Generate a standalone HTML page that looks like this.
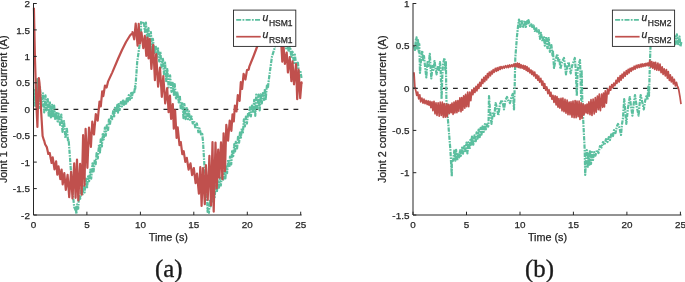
<!DOCTYPE html>
<html lang="en"><head><meta charset="utf-8"><title>Control input current</title>
<style>html,body{margin:0;padding:0;background:#fff}svg{display:block}</style></head>
<body>
<svg width="685" height="282" viewBox="0 0 685 282">
<rect width="685" height="282" fill="#fff"/>
<line x1="33.5" x2="301.7" y1="109.3" y2="109.3" stroke="#262626" stroke-width="1.3" stroke-dasharray="4.8 5.2"/>
<polyline points="34.0,100.0 34.6,90.0 35.2,106.0 35.9,84.0 36.6,104.0 37.2,79.0 37.9,106.0 38.6,84.0 39.3,108.0 40.0,87.0 40.0,88.4 41.5,106.4 43.0,93.3 44.2,112.4 45.5,95.3 46.4,110.3 47.8,99.0 48.8,116.9 49.8,101.3 50.9,117.4 52.1,104.9 53.1,117.7 54.2,105.7 55.1,118.9 56.6,111.8 57.6,121.4 58.6,113.6 60.0,124.9 61.3,114.5 62.5,131.9 64.0,121.2 65.4,138.1 66.9,128.8 68.1,141.7 68.5,140.0 68.8,142.0 70.0,158.0 72.0,186.0 74.2,207.0 75.5,210.0 75.5,207.3 76.4,213.9 77.1,204.3 78.2,208.6 79.1,194.9 80.2,198.8 81.3,188.4 82.4,195.6 83.7,185.3 84.6,192.5 85.8,178.5 87.0,188.1 88.1,176.3 89.1,181.2 90.4,169.5 91.2,178.6 92.5,163.4 93.6,171.5 94.8,159.4 95.7,164.1 96.6,153.1 97.8,158.4 99.0,144.6 100.0,152.4 100.7,139.3 101.9,146.5 102.8,133.0 103.7,139.5 104.9,127.6 105.8,135.6 106.8,125.3 108.1,130.0 108.9,119.6 109.9,124.7 111.1,116.1 112.2,119.2 113.3,109.8 114.1,117.6 115.1,106.8 116.2,112.4 117.3,104.8 118.0,112.6 118.7,104.0 119.6,110.1 120.8,102.2 121.9,106.5 123.0,99.5 124.0,104.9 124.9,99.9 125.9,105.0 126.8,98.6 127.7,102.6 128.8,95.2 129.9,99.7 131.1,93.1 131.8,98.0 132.9,91.4 134.1,93.7 135.1,86.2 135.2,88.8 135.5,86.0 136.2,76.7 137.2,62.0 138.6,52.0 140.0,42.0 141.0,30.0 141.0,22.2 142.4,24.0 143.8,21.7 145.0,32.0 145.9,22.7 147.1,38.0 148.5,28.1 149.4,41.9 150.9,32.1 152.0,51.8 152.9,38.9 154.4,53.0 155.7,45.4 156.6,58.1 158.0,48.3 159.2,61.5 160.4,51.5 161.5,67.3 163.0,58.8 164.0,74.1 165.1,62.7 166.2,81.1 167.3,69.0 168.6,87.3 170.1,75.3 171.5,91.9 172.7,82.9 173.9,94.8 174.7,84.2 176.1,99.4 177.4,92.5 178.7,102.3 179.8,95.5 180.8,109.6 182.3,102.1 183.5,118.2 184.4,104.1 185.6,119.1 186.8,108.1 187.9,119.1 189.0,111.4 190.1,120.8 191.5,116.5 192.7,123.4 194.1,120.9 195.4,128.6 196.9,123.5 198.4,132.2 199.6,128.5 201.0,134.4 202.3,134.0 202.5,137.0 203.0,141.0 203.2,145.0 205.0,175.0 207.2,201.0 207.6,212.0 207.6,208.2 208.9,212.8 209.9,199.7 210.6,206.3 211.5,195.2 212.5,201.4 213.6,191.4 214.7,197.2 215.6,185.5 216.9,191.9 217.8,181.1 219.0,187.6 219.9,177.8 220.8,185.5 222.0,175.3 223.3,179.7 224.2,171.1 225.4,178.4 226.3,166.6 227.1,173.2 228.2,159.5 229.3,167.4 230.0,156.5 231.2,164.4 232.2,150.1 233.2,156.1 234.3,144.1 235.1,151.3 235.8,141.8 237.1,148.4 238.0,136.9 239.1,142.7 240.1,131.0 240.8,139.0 241.8,128.4 242.8,133.8 243.9,119.3 244.9,126.5 245.9,116.7 246.9,123.5 248.1,113.1 248.9,116.6 249.9,107.3 250.9,116.3 252.0,104.6 253.1,112.7 254.2,99.8 255.3,115.8 256.2,94.7 257.3,108.3 258.5,94.5 259.7,110.3 260.6,94.3 261.8,103.5 262.9,93.2 264.0,99.8 265.0,88.7 265.7,99.1 266.9,85.6 267.9,88.5 268.3,84.0 270.0,70.8 272.0,56.5 275.0,47.0 277.0,38.0 278.5,32.0 278.5,29.0 279.7,34.6 280.6,28.0 281.6,37.5 282.7,29.9 283.7,41.0 285.2,38.6 286.1,48.5 287.3,42.9 288.7,52.0 290.0,45.9 291.3,56.8 292.5,51.7 293.9,63.0 294.9,54.7 296.4,68.1 297.9,62.7 298.9,72.4 300.3,70.5 301.5,78.0" fill="none" stroke="#5bbf9f" stroke-width="2.2" stroke-linejoin="round" stroke-dasharray="4.4 1.1 1.6 1.1"/>
<polyline points="33.9,7.8 35.0,60.0 36.4,104.0 37.4,127.0 38.1,100.0 38.8,78.0 39.5,83.0 40.2,92.0 41.3,114.0 42.6,136.0 44.0,140.5 44.0,140.0 45.1,144.3 46.8,147.1 48.3,154.0 49.7,153.0 51.6,163.0 52.7,157.4 54.5,169.3 56.1,161.4 57.3,174.6 58.5,166.3 60.3,179.2 61.6,169.5 62.7,184.3 64.3,173.2 65.8,189.8 67.6,174.9 69.2,197.2 71.1,171.8 72.5,198.4 74.2,163.3 75.6,197.8 77.0,159.5 78.3,200.4 80.1,163.9 81.7,194.6 83.1,135.2 84.5,185.6 85.6,128.9 87.4,167.8 89.0,127.7 90.9,147.0 92.3,121.6 94.0,134.5 95.8,114.1 97.7,120.7 99.5,101.6 100.8,106.5 102.2,91.3 103.3,96.1 105.0,85.5 106.6,87.5 108.0,81.8 108.0,81.6 112.2,72.6 118.4,58.0 122.0,50.0 126.0,42.0 130.0,35.5 132.5,33.0 132.5,32.1 134.2,39.3 135.7,23.5 137.6,45.6 138.7,23.8 139.9,43.6 141.5,32.4 143.3,48.2 144.8,35.8 146.3,55.8 147.5,37.6 148.6,58.5 149.7,39.2 151.4,68.9 153.2,44.9 154.9,80.2 156.2,54.0 158.1,86.7 160.0,67.6 161.8,96.8 163.3,76.0 165.2,103.3 167.2,88.0 168.6,112.1 170.0,95.7 171.1,118.9 172.8,104.1 173.8,128.6 175.1,110.3 176.6,138.0 177.7,127.4 179.5,145.1 180.8,142.1 182.3,154.2 183.7,151.2 185.3,161.9 186.8,157.8 188.6,169.6 190.5,163.4 192.1,175.1 193.8,168.0 195.6,183.1 197.0,173.6 198.9,193.7 200.3,167.2 201.6,206.0 203.0,168.0 204.8,204.2 205.9,165.2 207.7,199.9 209.4,155.8 211.0,205.4 212.5,142.1 213.7,211.6 215.5,142.6 216.8,188.3 218.2,149.5 219.4,177.7 221.0,142.3 222.4,179.2 223.6,133.3 225.0,171.1 226.3,124.9 228.1,140.7 229.7,120.5 231.4,130.8 232.5,114.3 233.8,121.3 234.9,105.5 236.5,111.4 237.8,95.1 239.6,100.9 240.8,82.2 242.1,88.8 243.6,73.8 245.4,79.5 247.0,70.1 248.7,69.6 249.3,66.8 249.3,66.7 253.4,56.5 257.0,47.0 260.0,40.0 265.0,32.0 268.0,29.5 268.0,28.3 269.3,32.4 271.2,26.3 272.6,36.2 274.4,25.5 276.1,39.5 277.4,26.0 279.2,44.3 280.9,37.0 282.3,61.7 283.6,47.3 284.9,63.9 286.7,52.5 287.9,72.5 289.7,57.2 291.4,81.1 292.5,61.3 294.0,84.3 296.0,64.0 297.2,99.1 298.6,69.7 300.2,98.2 301.5,82.3 301.8,84.0" fill="none" stroke="#c0504d" stroke-width="2.2" stroke-linejoin="round"/>
<path d="M33.5 3.0V215.0H301.7" fill="none" stroke="#262626" stroke-width="1"/>
<line x1="33.5" x2="33.5" y1="215.0" y2="211.7" stroke="#262626" stroke-width="1"/>
<text x="33.5" y="228.3" text-anchor="middle" font-size="9.9" fill="#262626" stroke="#262626" stroke-width="0.25" font-family="Liberation Sans, Arial, Helvetica, sans-serif">0</text>
<line x1="86.9" x2="86.9" y1="215.0" y2="211.7" stroke="#262626" stroke-width="1"/>
<text x="86.9" y="228.3" text-anchor="middle" font-size="9.9" fill="#262626" stroke="#262626" stroke-width="0.25" font-family="Liberation Sans, Arial, Helvetica, sans-serif">5</text>
<line x1="140.4" x2="140.4" y1="215.0" y2="211.7" stroke="#262626" stroke-width="1"/>
<text x="140.4" y="228.3" text-anchor="middle" font-size="9.9" fill="#262626" stroke="#262626" stroke-width="0.25" font-family="Liberation Sans, Arial, Helvetica, sans-serif">10</text>
<line x1="193.8" x2="193.8" y1="215.0" y2="211.7" stroke="#262626" stroke-width="1"/>
<text x="193.8" y="228.3" text-anchor="middle" font-size="9.9" fill="#262626" stroke="#262626" stroke-width="0.25" font-family="Liberation Sans, Arial, Helvetica, sans-serif">15</text>
<line x1="247.3" x2="247.3" y1="215.0" y2="211.7" stroke="#262626" stroke-width="1"/>
<text x="247.3" y="228.3" text-anchor="middle" font-size="9.9" fill="#262626" stroke="#262626" stroke-width="0.25" font-family="Liberation Sans, Arial, Helvetica, sans-serif">20</text>
<line x1="300.7" x2="300.7" y1="215.0" y2="211.7" stroke="#262626" stroke-width="1"/>
<text x="300.7" y="228.3" text-anchor="middle" font-size="9.9" fill="#262626" stroke="#262626" stroke-width="0.25" font-family="Liberation Sans, Arial, Helvetica, sans-serif">25</text>
<line x1="33.5" x2="36.8" y1="3.5" y2="3.5" stroke="#262626" stroke-width="1"/>
<text x="29.9" y="7.1" text-anchor="end" font-size="9.9" fill="#262626" stroke="#262626" stroke-width="0.25" font-family="Liberation Sans, Arial, Helvetica, sans-serif">2</text>
<line x1="33.5" x2="36.8" y1="29.9" y2="29.9" stroke="#262626" stroke-width="1"/>
<text x="29.9" y="33.5" text-anchor="end" font-size="9.9" fill="#262626" stroke="#262626" stroke-width="0.25" font-family="Liberation Sans, Arial, Helvetica, sans-serif">1.5</text>
<line x1="33.5" x2="36.8" y1="56.4" y2="56.4" stroke="#262626" stroke-width="1"/>
<text x="29.9" y="60.0" text-anchor="end" font-size="9.9" fill="#262626" stroke="#262626" stroke-width="0.25" font-family="Liberation Sans, Arial, Helvetica, sans-serif">1</text>
<line x1="33.5" x2="36.8" y1="82.8" y2="82.8" stroke="#262626" stroke-width="1"/>
<text x="29.9" y="86.4" text-anchor="end" font-size="9.9" fill="#262626" stroke="#262626" stroke-width="0.25" font-family="Liberation Sans, Arial, Helvetica, sans-serif">0.5</text>
<line x1="33.5" x2="36.8" y1="109.2" y2="109.2" stroke="#262626" stroke-width="1"/>
<text x="29.9" y="112.8" text-anchor="end" font-size="9.9" fill="#262626" stroke="#262626" stroke-width="0.25" font-family="Liberation Sans, Arial, Helvetica, sans-serif">0</text>
<line x1="33.5" x2="36.8" y1="135.7" y2="135.7" stroke="#262626" stroke-width="1"/>
<text x="29.9" y="139.3" text-anchor="end" font-size="9.9" fill="#262626" stroke="#262626" stroke-width="0.25" font-family="Liberation Sans, Arial, Helvetica, sans-serif">-0.5</text>
<line x1="33.5" x2="36.8" y1="162.1" y2="162.1" stroke="#262626" stroke-width="1"/>
<text x="29.9" y="165.7" text-anchor="end" font-size="9.9" fill="#262626" stroke="#262626" stroke-width="0.25" font-family="Liberation Sans, Arial, Helvetica, sans-serif">-1</text>
<line x1="33.5" x2="36.8" y1="188.6" y2="188.6" stroke="#262626" stroke-width="1"/>
<text x="29.9" y="192.2" text-anchor="end" font-size="9.9" fill="#262626" stroke="#262626" stroke-width="0.25" font-family="Liberation Sans, Arial, Helvetica, sans-serif">-1.5</text>
<line x1="33.5" x2="36.8" y1="215.0" y2="215.0" stroke="#262626" stroke-width="1"/>
<text x="29.9" y="218.6" text-anchor="end" font-size="9.9" fill="#262626" stroke="#262626" stroke-width="0.25" font-family="Liberation Sans, Arial, Helvetica, sans-serif">-2</text>
<text x="168.3" y="241.2" text-anchor="middle" font-size="10.8" fill="#262626" stroke="#262626" stroke-width="0.25" font-family="Liberation Sans, Arial, Helvetica, sans-serif">Time (s)</text>
<text transform="translate(7.2,109.25) rotate(-90)" text-anchor="middle" font-size="10.8" fill="#262626" stroke="#262626" stroke-width="0.25" font-family="Liberation Sans, Arial, Helvetica, sans-serif">Joint 1 control input current (A)</text>
<text x="168.8" y="277.3" text-anchor="middle" font-size="24.8" fill="#1a1a1a" stroke="#1a1a1a" stroke-width="0.35" font-family="Liberation Serif, Times New Roman, serif">(a)</text>
<rect x="233.5" y="10.1" width="62.30000000000001" height="36.3" fill="#fff" stroke="#262626" stroke-width="0.9"/>
<line x1="236.2" x2="260.7" y1="19.9" y2="19.9" stroke="#5bbf9f" stroke-width="1.7" stroke-dasharray="5 1.3 1.8 1.3"/>
<line x1="236.2" x2="260.7" y1="36.7" y2="36.7" stroke="#c0504d" stroke-width="1.7"/>
<text x="262.5" y="21.0" font-size="10.4" fill="#262626" stroke="#262626" stroke-width="0.25" font-family="Liberation Sans, Arial, Helvetica, sans-serif"><tspan font-style="italic">u</tspan><tspan dx="0.6" dy="5.3" font-size="8.5">HSM1</tspan></text>
<text x="262.5" y="37.8" font-size="10.4" fill="#262626" stroke="#262626" stroke-width="0.25" font-family="Liberation Sans, Arial, Helvetica, sans-serif"><tspan font-style="italic">u</tspan><tspan dx="0.6" dy="5.3" font-size="8.5">RSM1</tspan></text>
<line x1="413.0" x2="681.4" y1="88.3" y2="88.3" stroke="#262626" stroke-width="1.3" stroke-dasharray="4.8 5.2"/>
<polyline points="414.2,46.0 415.0,50.0 415.8,40.0 416.5,37.3 417.2,50.0 418.0,40.0 418.8,52.0 419.3,44.0 420.0,73.0 421.0,60.0 422.2,50.7 423.0,60.0 424.0,56.0 425.0,66.0 426.3,77.4 427.5,62.0 428.5,66.0 429.8,53.8 430.5,66.0 431.3,78.5 432.5,66.0 433.3,70.0 434.5,61.0 435.5,68.0 436.6,74.4 438.0,66.0 439.0,70.0 440.0,62.0 440.7,72.0 441.2,86.0 441.6,99.0 442.2,78.0 443.0,64.0 444.5,58.0 445.3,70.0 445.9,62.0 446.4,100.0 447.6,115.6 450.4,150.0 451.8,176.3 451.8,159.8 453.1,160.6 454.5,149.1 455.3,160.6 456.1,149.9 457.2,160.6 458.1,152.8 459.2,157.4 460.0,150.3 460.8,155.9 462.1,147.7 463.0,153.7 464.3,146.1 465.2,151.2 466.5,142.6 467.4,153.5 468.4,142.3 469.6,149.1 470.4,139.9 471.2,144.7 472.0,136.7 473.3,144.7 474.5,135.4 475.8,141.2 476.6,132.4 477.6,138.7 478.6,129.6 479.7,137.1 480.6,127.8 481.5,134.6 482.5,126.4 483.7,132.0 484.9,124.2 485.9,129.4 486.9,124.3 488.2,126.6 488.5,125.0 489.0,96.0 490.0,110.0 491.5,123.8 493.0,112.0 494.3,116.0 495.6,103.0 497.0,108.0 498.3,115.6 500.0,104.0 501.8,100.0 503.0,104.0 504.0,109.4 505.5,100.0 507.0,97.0 508.5,101.0 510.0,103.0 511.5,97.0 512.7,94.0 513.4,100.0 514.0,109.4 514.6,90.0 515.3,58.0 517.0,36.0 518.3,24.0 519.0,19.5 520.2,27.0 521.5,20.0 523.0,28.0 524.5,20.5 525.8,27.0 527.2,21.0 528.5,23.0 528.5,20.1 530.0,25.9 531.4,24.3 532.7,28.5 533.6,25.5 534.8,30.9 536.3,28.3 537.2,32.9 538.8,30.2 540.0,38.9 540.9,32.8 542.5,41.5 543.8,35.9 544.8,45.7 546.2,36.8 547.4,48.1 548.7,38.1 549.9,52.0 551.4,45.0 552.5,55.3 553.0,51.5 553.0,52.0 554.0,68.0 555.5,60.0 557.3,54.0 558.5,62.0 559.5,60.0 560.4,69.0 562.0,62.0 564.0,58.0 565.0,66.0 566.0,74.4 567.3,66.0 568.7,62.0 569.7,68.0 570.7,73.4 572.0,66.0 573.5,62.0 574.8,58.0 575.8,70.0 576.8,96.0 577.6,70.0 578.8,64.0 580.0,60.0 580.6,80.0 581.2,100.0 581.6,70.0 582.3,100.0 583.0,115.6 584.7,150.0 585.2,174.9 586.0,160.0 586.8,150.0 587.6,168.0 588.4,152.0 589.2,166.0 590.0,150.0 591.0,164.0 592.0,152.0 593.0,160.0 594.2,152.0 595.4,155.7 597.0,150.0 598.5,153.0 600.0,146.0 601.6,147.5 603.0,142.0 604.5,145.0 606.0,139.0 607.5,142.0 608.8,137.0 610.0,140.0 611.5,133.0 613.0,136.0 614.0,130.0 615.5,133.0 617.0,126.0 618.0,124.0 619.5,128.0 621.0,135.0 622.0,124.0 623.0,118.0 624.2,99.0 625.2,110.0 626.3,123.8 628.0,108.0 629.8,97.0 631.0,106.0 632.4,115.6 633.7,104.0 635.0,95.0 636.6,106.0 638.6,115.6 639.6,104.0 640.7,95.0 642.2,102.0 643.8,109.4 645.3,100.0 646.8,95.0 647.5,100.0 648.3,86.7 649.0,96.0 650.0,60.0 650.5,47.0 650.5,47.0 651.8,35.1 652.8,26.4 653.9,27.3 655.0,21.1 656.2,26.7 657.8,24.6 658.7,30.1 660.1,26.1 661.5,32.3 663.0,26.8 664.4,35.4 665.7,30.0 667.2,38.3 668.3,30.6 669.9,39.9 671.5,33.4 672.5,40.9 674.1,34.4 675.6,44.1 676.9,34.3 678.2,45.2 679.5,36.5 680.5,46.6 681.5,41.0" fill="none" stroke="#5bbf9f" stroke-width="2.2" stroke-linejoin="round" stroke-dasharray="4.4 1.1 1.6 1.1"/>
<polyline points="414.0,72.3 414.9,87.0 415.8,90.7 416.7,95.3 417.7,92.1 418.7,98.9 419.8,94.8 420.7,101.8 421.9,98.1 423.0,103.1 424.0,99.1 425.0,103.6 426.1,100.5 427.2,104.5 428.1,100.9 429.0,105.1 430.0,101.4 430.9,107.7 432.0,101.9 432.9,110.7 434.0,101.3 435.0,113.8 436.0,102.8 437.0,115.5 438.1,102.9 439.2,116.1 440.2,102.2 441.3,115.4 442.3,102.2 443.3,117.3 444.2,103.7 445.3,117.2 446.3,103.9 447.2,116.8 448.2,104.3 449.3,113.6 450.2,104.5 451.2,112.7 452.0,103.0 453.1,114.3 454.0,102.2 454.9,112.9 455.9,100.8 456.9,112.7 457.9,100.6 458.8,111.3 459.9,97.9 461.0,111.8 461.8,97.5 462.7,110.2 463.7,95.9 464.8,108.1 465.6,94.3 466.7,106.6 467.7,92.0 468.7,106.7 469.8,92.0 470.8,100.6 471.9,89.9 472.9,94.7 473.9,88.4 474.9,92.5 476.0,86.4 476.9,90.9 478.0,84.3 478.9,88.5 479.8,82.4 480.9,86.2 481.8,79.4 482.8,83.5 483.8,77.4 484.7,81.6 485.6,75.9 486.6,79.9 487.5,73.6 488.4,77.7 489.3,72.1 490.4,75.8 491.3,71.1 492.3,73.9 493.2,69.7 494.2,72.3 495.3,68.4 496.4,71.3 497.3,67.7 498.2,70.4 499.3,67.0 500.2,69.4 501.0,66.5 502.2,68.7 503.3,66.3 504.3,68.2 505.5,65.7 506.6,67.7 507.7,65.4 508.6,67.5 509.5,65.0 510.5,66.9 511.6,64.8 512.6,66.7 513.7,64.1 514.7,66.7 515.6,63.7 516.6,66.7 517.4,63.1 518.3,67.4 519.2,63.5 520.1,67.9 521.1,64.7 522.2,68.2 523.2,65.3 524.1,69.2 525.1,65.8 526.2,70.4 527.0,66.7 527.9,71.4 528.9,68.1 529.9,72.9 531.0,70.0 531.8,74.4 532.7,71.1 533.7,75.9 534.7,72.1 535.8,78.2 536.9,74.7 537.8,80.2 538.7,76.2 539.7,82.1 540.8,78.4 541.9,85.1 542.7,81.0 543.8,87.9 544.7,83.7 545.7,90.1 546.7,86.9 547.9,93.6 549.0,89.6 550.0,96.2 550.9,92.3 551.9,99.2 553.0,95.3 554.0,102.3 555.1,95.9 556.1,104.9 557.0,96.6 558.0,107.2 558.9,98.6 559.9,108.1 561.0,98.4 562.0,110.8 562.9,98.2 564.0,111.7 565.0,99.3 566.0,113.2 567.1,100.1 568.0,114.6 569.1,102.0 570.0,114.8 571.0,101.9 572.0,117.1 573.0,101.1 574.1,117.7 575.1,100.5 576.1,117.6 577.0,101.0 578.1,116.7 579.1,101.0 580.0,119.4 581.1,102.8 582.0,118.4 583.1,103.9 584.0,114.9 585.1,104.9 586.1,112.8 587.0,104.1 587.9,113.6 588.9,101.8 590.0,114.6 591.0,99.7 592.0,115.4 593.1,99.1 594.2,113.9 595.3,97.5 596.2,112.2 597.4,96.0 598.4,109.7 599.3,94.2 600.4,110.6 601.6,94.2 602.6,107.3 603.5,93.0 604.4,107.0 605.3,90.8 606.4,103.1 607.5,89.2 608.6,93.9 609.8,86.4 610.7,90.2 611.8,84.5 612.9,87.6 613.8,83.2 614.9,85.7 616.0,80.4 616.9,83.4 618.0,77.5 619.1,82.0 620.2,75.7 621.1,80.1 622.1,74.1 623.1,78.0 624.1,72.1 625.2,76.2 626.3,70.7 627.3,74.3 628.2,69.3 629.1,72.9 630.1,68.4 631.2,71.3 632.1,67.5 633.2,69.8 634.2,66.2 635.2,69.1 636.2,65.4 637.3,67.9 638.2,64.8 639.3,67.4 640.3,64.3 641.2,66.9 642.1,63.9 643.1,66.5 644.2,63.9 645.1,66.1 646.0,63.3 647.0,65.7 648.0,63.0 648.9,65.9 649.8,60.3 650.8,67.2 651.8,61.5 652.7,68.2 653.8,62.4 654.7,69.4 655.6,62.3 656.8,70.1 657.9,63.2 658.9,70.5 660.0,64.1 661.1,72.7 662.2,66.9 663.1,74.3 664.2,68.8 665.3,75.9 666.4,69.6 667.4,78.1 668.3,71.7 669.4,80.4 670.3,74.8 671.3,81.8 672.3,77.0 673.4,83.8 674.3,79.4 675.4,85.8 676.5,82.4 677.7,87.5 678.0,87.0 678.8,90.0 680.0,97.0 681.0,104.2" fill="none" stroke="#c0504d" stroke-width="1.7" stroke-linejoin="round"/>
<path d="M413.0 3.0V215.0H681.4" fill="none" stroke="#262626" stroke-width="1"/>
<line x1="413.0" x2="413.0" y1="215.0" y2="211.7" stroke="#262626" stroke-width="1"/>
<text x="413.0" y="228.3" text-anchor="middle" font-size="9.9" fill="#262626" stroke="#262626" stroke-width="0.25" font-family="Liberation Sans, Arial, Helvetica, sans-serif">0</text>
<line x1="466.5" x2="466.5" y1="215.0" y2="211.7" stroke="#262626" stroke-width="1"/>
<text x="466.5" y="228.3" text-anchor="middle" font-size="9.9" fill="#262626" stroke="#262626" stroke-width="0.25" font-family="Liberation Sans, Arial, Helvetica, sans-serif">5</text>
<line x1="520.0" x2="520.0" y1="215.0" y2="211.7" stroke="#262626" stroke-width="1"/>
<text x="520.0" y="228.3" text-anchor="middle" font-size="9.9" fill="#262626" stroke="#262626" stroke-width="0.25" font-family="Liberation Sans, Arial, Helvetica, sans-serif">10</text>
<line x1="573.4" x2="573.4" y1="215.0" y2="211.7" stroke="#262626" stroke-width="1"/>
<text x="573.4" y="228.3" text-anchor="middle" font-size="9.9" fill="#262626" stroke="#262626" stroke-width="0.25" font-family="Liberation Sans, Arial, Helvetica, sans-serif">15</text>
<line x1="626.9" x2="626.9" y1="215.0" y2="211.7" stroke="#262626" stroke-width="1"/>
<text x="626.9" y="228.3" text-anchor="middle" font-size="9.9" fill="#262626" stroke="#262626" stroke-width="0.25" font-family="Liberation Sans, Arial, Helvetica, sans-serif">20</text>
<line x1="680.4" x2="680.4" y1="215.0" y2="211.7" stroke="#262626" stroke-width="1"/>
<text x="680.4" y="228.3" text-anchor="middle" font-size="9.9" fill="#262626" stroke="#262626" stroke-width="0.25" font-family="Liberation Sans, Arial, Helvetica, sans-serif">25</text>
<line x1="413.0" x2="416.3" y1="3.5" y2="3.5" stroke="#262626" stroke-width="1"/>
<text x="409.4" y="7.1" text-anchor="end" font-size="9.9" fill="#262626" stroke="#262626" stroke-width="0.25" font-family="Liberation Sans, Arial, Helvetica, sans-serif">1</text>
<line x1="413.0" x2="416.3" y1="45.8" y2="45.8" stroke="#262626" stroke-width="1"/>
<text x="409.4" y="49.4" text-anchor="end" font-size="9.9" fill="#262626" stroke="#262626" stroke-width="0.25" font-family="Liberation Sans, Arial, Helvetica, sans-serif">0.5</text>
<line x1="413.0" x2="416.3" y1="88.1" y2="88.1" stroke="#262626" stroke-width="1"/>
<text x="409.4" y="91.7" text-anchor="end" font-size="9.9" fill="#262626" stroke="#262626" stroke-width="0.25" font-family="Liberation Sans, Arial, Helvetica, sans-serif">0</text>
<line x1="413.0" x2="416.3" y1="130.4" y2="130.4" stroke="#262626" stroke-width="1"/>
<text x="409.4" y="134.0" text-anchor="end" font-size="9.9" fill="#262626" stroke="#262626" stroke-width="0.25" font-family="Liberation Sans, Arial, Helvetica, sans-serif">-0.5</text>
<line x1="413.0" x2="416.3" y1="172.7" y2="172.7" stroke="#262626" stroke-width="1"/>
<text x="409.4" y="176.3" text-anchor="end" font-size="9.9" fill="#262626" stroke="#262626" stroke-width="0.25" font-family="Liberation Sans, Arial, Helvetica, sans-serif">-1</text>
<line x1="413.0" x2="416.3" y1="215.0" y2="215.0" stroke="#262626" stroke-width="1"/>
<text x="409.4" y="218.6" text-anchor="end" font-size="9.9" fill="#262626" stroke="#262626" stroke-width="0.25" font-family="Liberation Sans, Arial, Helvetica, sans-serif">-1.5</text>
<text x="547.5" y="241.2" text-anchor="middle" font-size="10.8" fill="#262626" stroke="#262626" stroke-width="0.25" font-family="Liberation Sans, Arial, Helvetica, sans-serif">Time (s)</text>
<text transform="translate(385.8,109.25) rotate(-90)" text-anchor="middle" font-size="10.8" fill="#262626" stroke="#262626" stroke-width="0.25" font-family="Liberation Sans, Arial, Helvetica, sans-serif">Joint 2 control input current (A)</text>
<text x="539.5" y="277.3" text-anchor="middle" font-size="24.8" fill="#1a1a1a" stroke="#1a1a1a" stroke-width="0.35" font-family="Liberation Serif, Times New Roman, serif">(b)</text>
<rect x="612.4" y="10.1" width="62.200000000000045" height="36.3" fill="#fff" stroke="#262626" stroke-width="0.9"/>
<line x1="615.1" x2="639.6" y1="19.9" y2="19.9" stroke="#5bbf9f" stroke-width="1.7" stroke-dasharray="5 1.3 1.8 1.3"/>
<line x1="615.1" x2="639.6" y1="36.7" y2="36.7" stroke="#c0504d" stroke-width="1.7"/>
<text x="641.4" y="21.0" font-size="10.4" fill="#262626" stroke="#262626" stroke-width="0.25" font-family="Liberation Sans, Arial, Helvetica, sans-serif"><tspan font-style="italic">u</tspan><tspan dx="0.6" dy="5.3" font-size="8.5">HSM2</tspan></text>
<text x="641.4" y="37.8" font-size="10.4" fill="#262626" stroke="#262626" stroke-width="0.25" font-family="Liberation Sans, Arial, Helvetica, sans-serif"><tspan font-style="italic">u</tspan><tspan dx="0.6" dy="5.3" font-size="8.5">RSM2</tspan></text>
</svg>
</body></html>
